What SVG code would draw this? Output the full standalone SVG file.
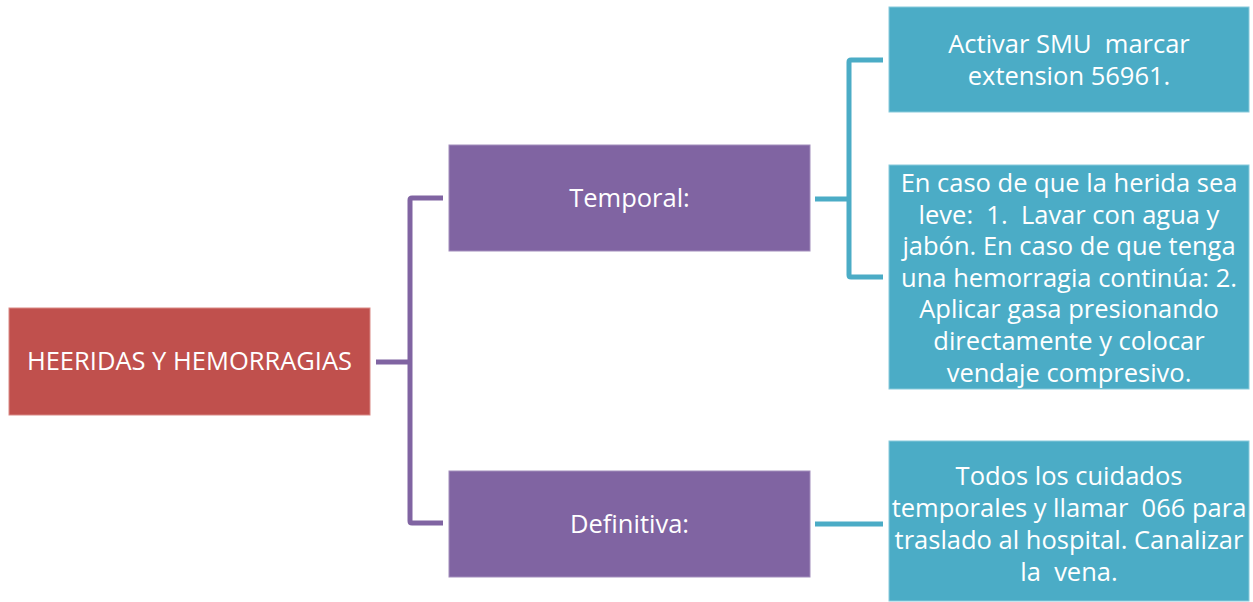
<svg xmlns="http://www.w3.org/2000/svg" width="1253" height="602" viewBox="0 0 1253 602">
<style>
.t{font-family:"Open Sans","Liberation Sans",sans-serif;fill:#fff;text-anchor:middle;font-size:25.5px}
.red{fill:#C0504D;stroke:#D98986;stroke-width:1}
.pur{fill:#8064A2;stroke:#A28DBC;stroke-width:1}
.teal{fill:#4BACC6;stroke:#88CADB;stroke-width:1}
.cp{fill:none;stroke:#8064A2;stroke-width:5}
.ct{fill:none;stroke:#4BACC6;stroke-width:5}
</style>
<rect width="1253" height="602" fill="#fff"/>
<g id="connectors">
<path class="cp" d="M376 362H410M443 198H412Q410 198 410 200V521Q410 523 412 523H443"/>
<path class="ct" d="M815 199H849M883 60H851Q849 60 849 62V275Q849 277 851 277H883"/>
<path class="ct" d="M815 524H883"/>
</g>
<g id="root">
<rect class="red" x="9" y="308" width="361" height="107"/>
<text class="t" x="189.5" y="370">HEERIDAS Y HEMORRAGIAS</text>
</g>
<g id="temporal">
<rect class="pur" x="449" y="145" width="361" height="106"/>
<text class="t" x="629.5" y="207">Temporal:</text>
</g>
<g id="definitiva">
<rect class="pur" x="449" y="471" width="361" height="106"/>
<text class="t" x="629.5" y="533">Definitiva:</text>
</g>
<g id="smu">
<rect class="teal" x="889" y="7" width="360" height="105"/>
<text class="t" x="1069" y="53" xml:space="preserve">Activar SMU  marcar</text>
<text class="t" x="1069" y="85">extension 56961.</text>
</g>
<g id="leve">
<rect class="teal" x="889" y="165" width="360" height="224"/>
<text class="t" x="1069" y="192">En caso de que la herida sea</text>
<text class="t" x="1069" y="224" xml:space="preserve">leve:  1.  Lavar con agua y</text>
<text class="t" x="1069" y="255">jabón. En caso de que tenga</text>
<text class="t" x="1069" y="287">una hemorragia continúa: 2.</text>
<text class="t" x="1069" y="318">Aplicar gasa presionando</text>
<text class="t" x="1069" y="350">directamente y colocar</text>
<text class="t" x="1069" y="382">vendaje compresivo.</text>
</g>
<g id="todos">
<rect class="teal" x="889" y="441" width="360" height="160"/>
<text class="t" x="1069" y="485">Todos los cuidados</text>
<text class="t" x="1069" y="517" xml:space="preserve">temporales y llamar  066 para</text>
<text class="t" x="1069" y="549">traslado al hospital. Canalizar</text>
<text class="t" x="1069" y="581" xml:space="preserve">la  vena.</text>
</g>
</svg>
